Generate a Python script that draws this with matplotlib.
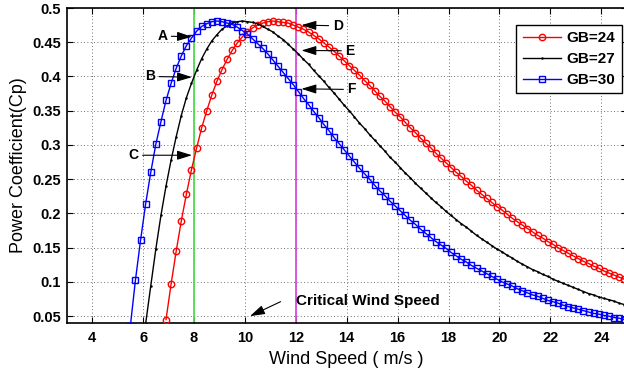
import numpy as np
import matplotlib
matplotlib.use("Agg")
import matplotlib.pyplot as plt

plt.rcParams["font.family"] = ["Liberation Sans", "DejaVu Sans"]

# wind speed samples (m/s), one point every 0.2 m/s
speed_gb24 = np.round(np.arange(6.9, 24.95, 0.2), 1)
speed_gb27 = np.round(np.arange(5.9, 24.95, 0.2), 1)
speed_gb30 = np.round(np.arange(5.5, 24.95, 0.2), 1)

cp_gb24 = [
    0.045, 0.097, 0.145, 0.189, 0.228, 0.264, 0.295, 0.325, 0.350, 0.373,
    0.393, 0.410, 0.425, 0.438, 0.449, 0.458, 0.465, 0.471, 0.475, 0.478,
    0.480, 0.481, 0.480, 0.479, 0.478, 0.475, 0.472, 0.469, 0.465, 0.460,
    0.455, 0.449, 0.443, 0.437, 0.430, 0.423, 0.416, 0.409, 0.402, 0.394,
    0.387, 0.379, 0.371, 0.364, 0.356, 0.348, 0.341, 0.333, 0.325, 0.318,
    0.310, 0.303, 0.296, 0.288, 0.281, 0.274, 0.267, 0.260, 0.254, 0.247,
    0.241, 0.234, 0.228, 0.222, 0.216, 0.210, 0.205, 0.199, 0.193, 0.188,
    0.183, 0.178, 0.173, 0.168, 0.164, 0.159, 0.155, 0.150, 0.146, 0.142,
    0.138, 0.134, 0.130, 0.127, 0.123, 0.120, 0.116, 0.113, 0.110, 0.107,
    0.104,
]

cp_gb27 = [
    -0.030, 0.039, 0.094, 0.148, 0.197, 0.240, 0.278, 0.312, 0.343, 0.369,
    0.390,
    0.409, 0.426, 0.440, 0.452, 0.461, 0.469, 0.474, 0.478, 0.480, 0.481,
    0.480, 0.479, 0.477, 0.473, 0.469, 0.465, 0.459, 0.454, 0.447, 0.440,
    0.433, 0.425, 0.418, 0.409, 0.401, 0.393, 0.384, 0.376, 0.367, 0.358,
    0.350, 0.341, 0.332, 0.324, 0.315, 0.307, 0.299, 0.291, 0.282, 0.275,
    0.267, 0.259, 0.252, 0.244, 0.237, 0.230, 0.223, 0.216, 0.210, 0.203,
    0.197, 0.191, 0.185, 0.180, 0.174, 0.168, 0.163, 0.158, 0.153, 0.148,
    0.144, 0.139, 0.135, 0.130, 0.126, 0.122, 0.118, 0.115, 0.111, 0.108,
    0.104, 0.101, 0.098, 0.095, 0.092, 0.089, 0.086, 0.083, 0.081, 0.078,
    0.076, 0.074, 0.072, 0.069, 0.067,
]

cp_gb30 = [
    0.036, 0.103, 0.161, 0.214, 0.260, 0.301, 0.334, 0.365, 0.390, 0.412,
    0.430, 0.445, 0.456, 0.466, 0.473, 0.477, 0.480, 0.481, 0.480, 0.478,
    0.476, 0.472, 0.467, 0.462, 0.455, 0.448, 0.441, 0.433, 0.424, 0.415,
    0.406, 0.397, 0.388, 0.378, 0.368, 0.359, 0.349, 0.340, 0.330, 0.321,
    0.311, 0.302, 0.293, 0.284, 0.275, 0.266, 0.258, 0.250, 0.241, 0.233,
    0.226, 0.218, 0.211, 0.204, 0.197, 0.190, 0.184, 0.177, 0.171, 0.165,
    0.159, 0.154, 0.149, 0.143, 0.138, 0.133, 0.129, 0.124, 0.120, 0.116,
    0.112, 0.108, 0.104, 0.100, 0.097, 0.094, 0.090, 0.087, 0.084, 0.081,
    0.079, 0.076, 0.073, 0.071, 0.069, 0.066, 0.064, 0.062, 0.060, 0.058,
    0.056, 0.054, 0.053, 0.051, 0.050, 0.048, 0.047, 0.045,
]

series_labels = ["GB=24", "GB=27", "GB=30"]
critical_speeds = [8, 12]
x_ticks = [4, 6, 8, 10, 12, 14, 16, 18, 20, 22, 24]
y_ticks = [0.05, 0.1, 0.15, 0.2, 0.25, 0.3, 0.35, 0.4, 0.45, 0.5]

point_letters = ["A", "B", "C", "D", "E", "F"]

W, H = 624, 371
fig = plt.figure(figsize=(W / 100, H / 100), dpi=100)
ax = fig.add_axes([66.75 / W, 48 / H, (626.7 - 66.75) / W, 315 / H])

ax.axvline(critical_speeds[0], color="#4ddc4d", lw=1.3, zorder=1)
ax.axvline(critical_speeds[1], color="#dd48dd", lw=1.3, zorder=1)

l24, = ax.plot(speed_gb24, cp_gb24, "-o", color="red", lw=1.0, ms=4.6,
               mfc="none", mew=1.0, zorder=3)
l27, = ax.plot(speed_gb27, cp_gb27, "-", color="black", lw=1.0, marker=".",
               ms=1.5, zorder=3)
l30, = ax.plot(speed_gb30, cp_gb30, "-s", color="blue", lw=1.0, ms=3.7,
               mfc="none", mew=1.0, zorder=3)

ax.set_xlim(3, 25)
ax.set_ylim(0.04, 0.5)
ax.set_xticks(x_ticks)
ax.set_xticklabels([str(t) for t in x_ticks])
ax.set_yticks(y_ticks)
ax.set_yticklabels([f"{t:g}" for t in y_ticks])
ax.tick_params(direction="in", length=4, width=0.8, top=True, right=True,
               labelsize=10.5)
ax.tick_params(axis="x", pad=6)
ax.tick_params(axis="y", pad=4)
for lbl in ax.get_xticklabels() + ax.get_yticklabels():
    lbl.set_fontweight("bold")
for sp in ax.spines.values():
    sp.set_linewidth(1.2)

ax.grid(True, color="0.25", lw=0.6, linestyle=(0, (1, 3)))
ax.set_axisbelow(True)

ax.set_xlabel("Wind Speed ( m/s )", fontsize=13, labelpad=4)
ax.set_ylabel("Power Coefficient(Cp)", fontsize=13, labelpad=4)

# arrows pointing at the curves on the two critical speed lines
tips = [(7.92, 0.458), (7.92, 0.399), (7.92, 0.285),
        (12.22, 0.475), (12.22, 0.438), (12.22, 0.382)]
tails = [(6.75, 0.459), (6.27, 0.400), (5.62, 0.285),
         (13.65, 0.474), (14.13, 0.4375), (14.2, 0.381)]
arrow_kw = dict(arrowstyle="-|>,head_length=0.9,head_width=0.28",
                color="black", lw=0.8, mutation_scale=10, shrinkA=1, shrinkB=0)
for letter, tip, tail in zip(point_letters, tips, tails):
    ax.annotate(letter, xy=tip, xytext=tail, ha="center", va="center",
                fontsize=10, fontweight="bold", arrowprops=arrow_kw)

ax.annotate("", xy=(10.2, 0.050), xytext=(11.45, 0.072), arrowprops=arrow_kw)
ax.text(12.0, 0.072, "Critical Wind Speed", ha="left", va="center",
        fontsize=11, fontweight="bold")

leg = ax.legend([l24, l27, l30], series_labels, loc="upper right",
                bbox_to_anchor=(621.7 / W, 1 - 25 / H),
                bbox_transform=fig.transFigure, borderaxespad=0,
                fancybox=False, edgecolor="black", framealpha=1,
                numpoints=1, handlelength=2.5, handletextpad=0.4,
                labelspacing=0.45, borderpad=0.4,
                prop={"size": 11, "weight": "bold"})
leg.get_frame().set_linewidth(1.0)

fig.savefig("out.png", dpi=100)
